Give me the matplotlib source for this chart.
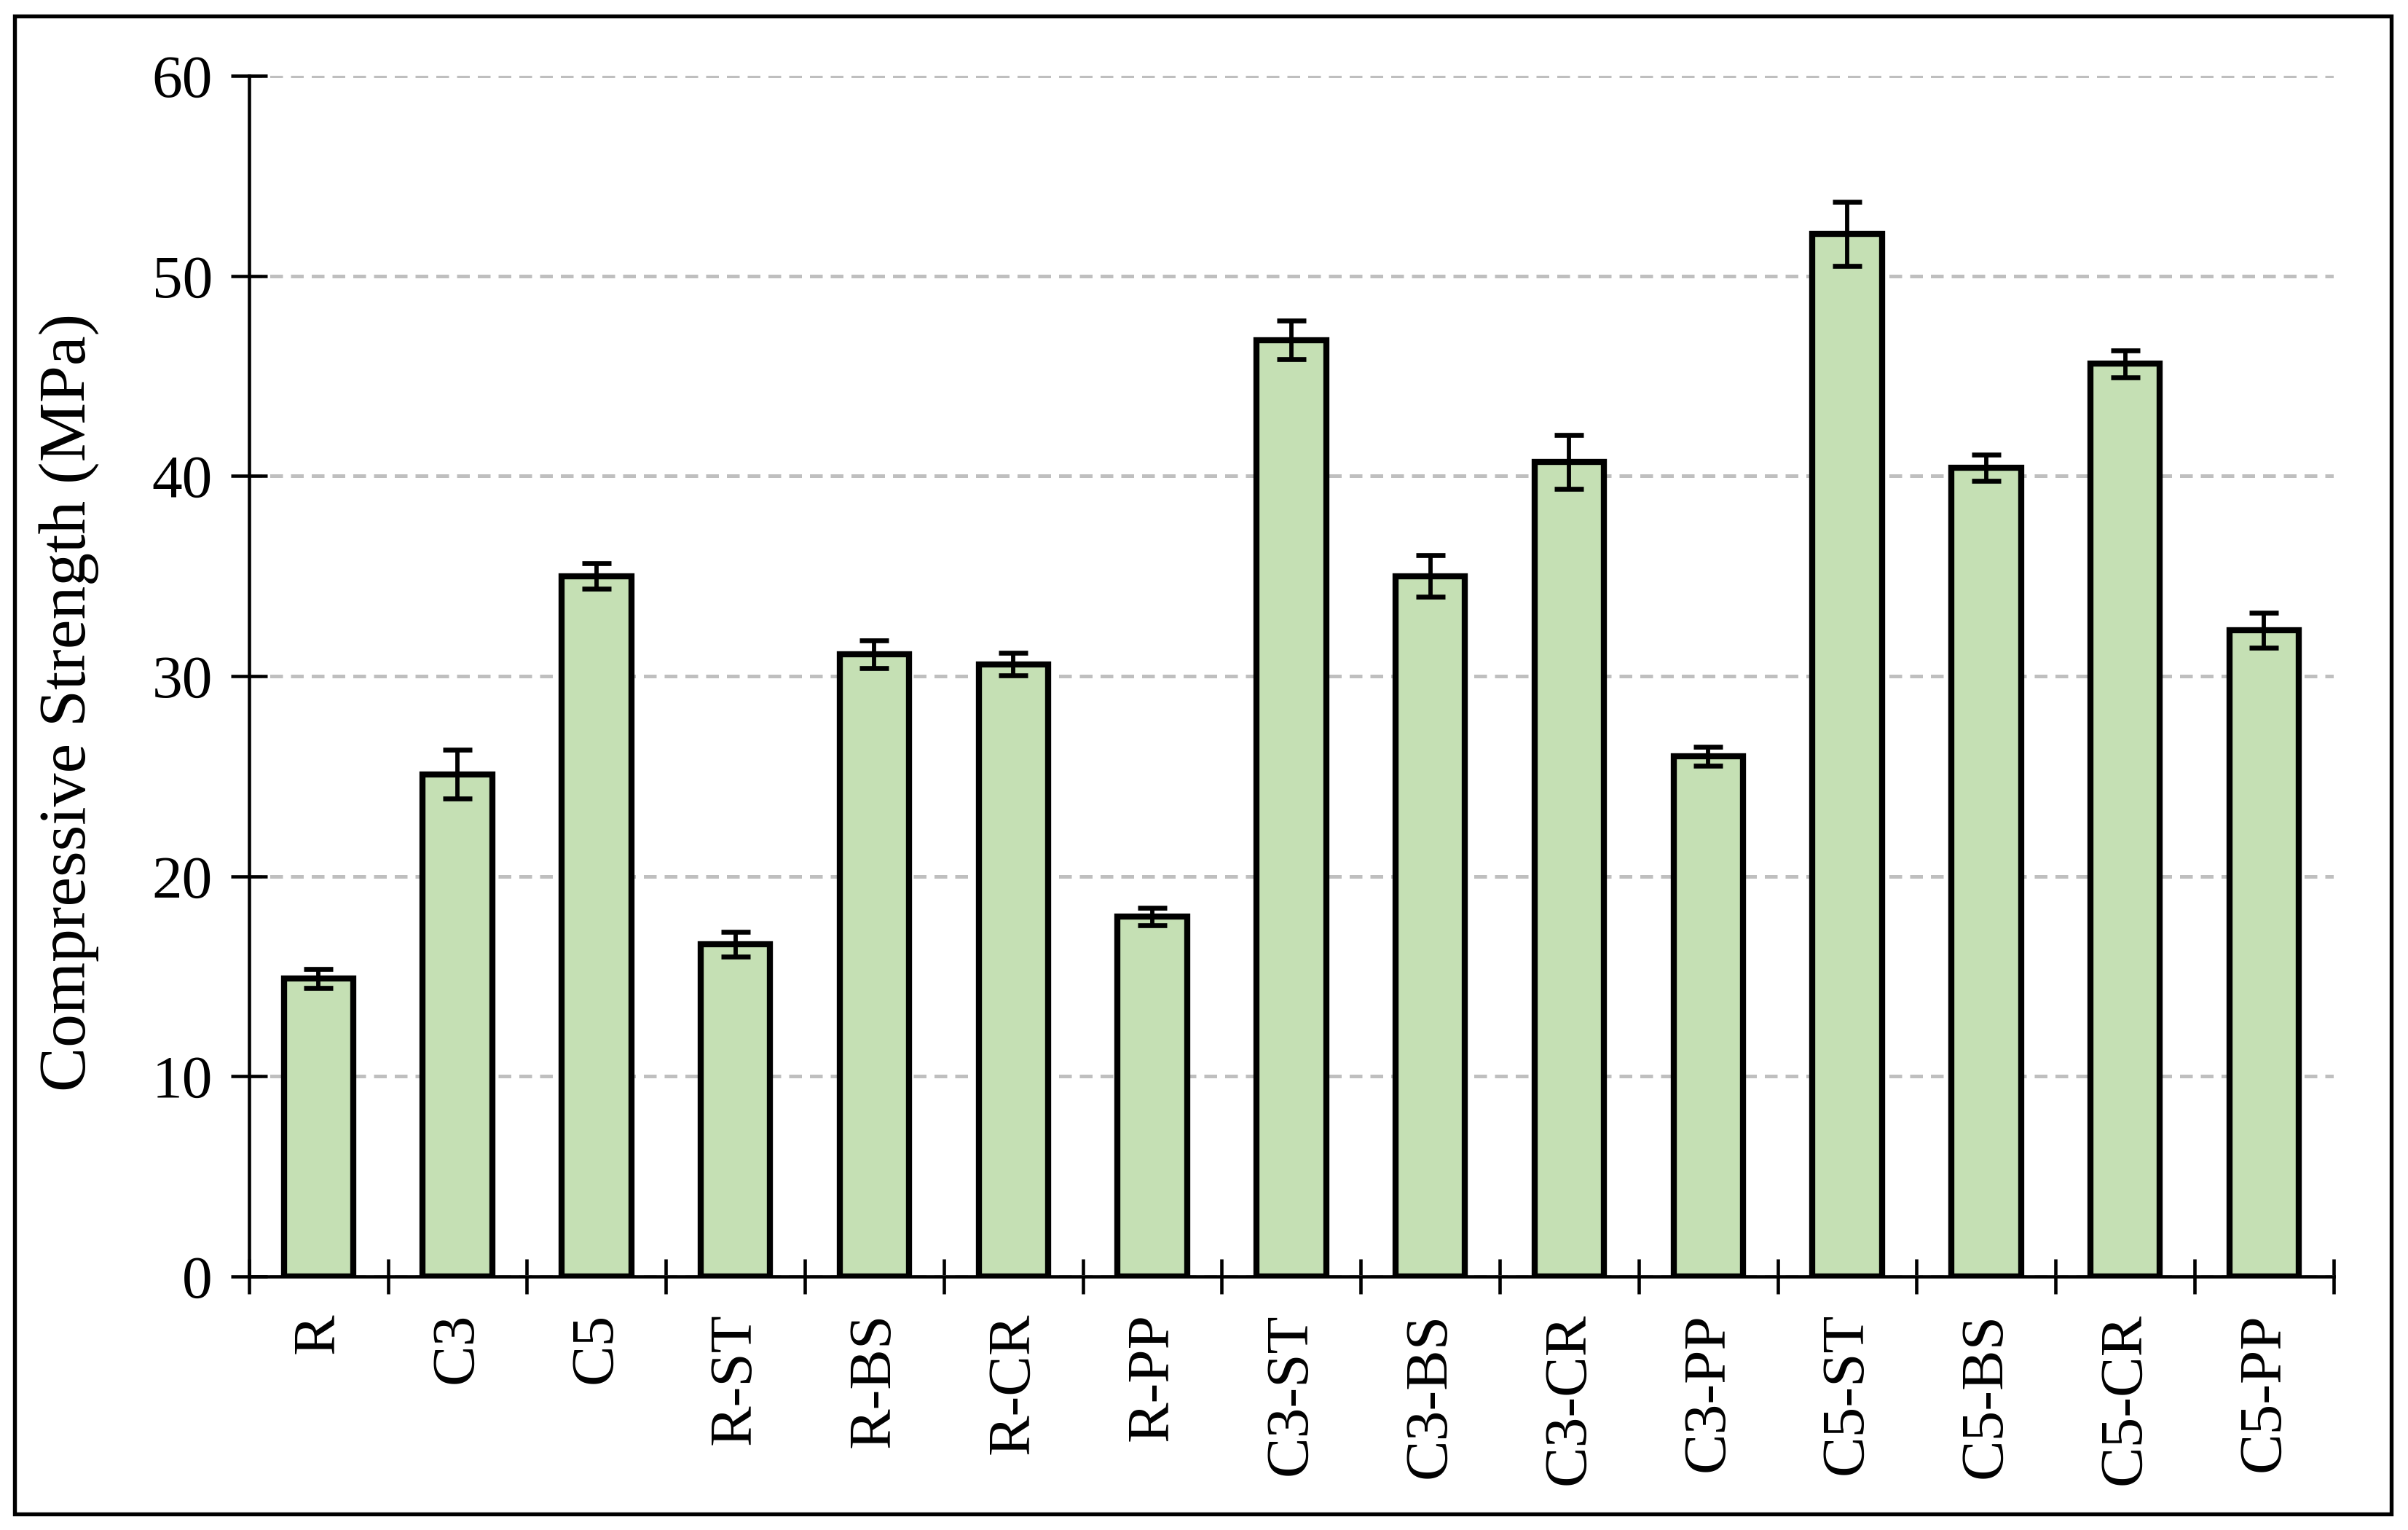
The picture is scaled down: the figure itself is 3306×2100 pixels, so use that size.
import matplotlib.pyplot as plt
from matplotlib.patches import Rectangle

# mix designations and measured compressive strength (MPa)
mixes = ['R', 'C3', 'C5', 'R-ST', 'R-BS', 'R-CR', 'R-PP',
         'C3-ST', 'C3-BS', 'C3-CR', 'C3-PP',
         'C5-ST', 'C5-BS', 'C5-CR', 'C5-PP']
strength = [14.9, 25.1, 35.0, 16.6, 31.1, 30.6, 18.0,
            46.8, 35.0, 40.7, 26.0,
            52.1, 40.4, 45.6, 32.3]
std_dev = [0.48, 1.22, 0.63, 0.63, 0.70, 0.57, 0.44,
           0.97, 1.03, 1.34, 0.47,
           1.60, 0.65, 0.69, 0.87]
y_ticks = [0, 10, 20, 30, 40, 50, 60]

plt.rcParams['font.family'] = ['Liberation Serif', 'DejaVu Serif']

fig = plt.figure(figsize=(11.02, 7.0), dpi=300)
ax = fig.add_axes([0.1034, 0.1657, 0.8657, 0.7848])

x = list(range(len(mixes)))
ax.bar(x, strength, width=0.5, color='#C5E0B4', edgecolor='black',
       linewidth=2.0, zorder=2)
ax.errorbar(x, strength, yerr=std_dev, fmt='none', ecolor='black',
            elinewidth=1.4, capsize=4.8, capthick=1.6, zorder=3)

ax.set_xlim(-0.5, len(mixes) - 0.5)
ax.set_ylim(0, 60)
ax.set_yticks(y_ticks)
ax.set_xticks(x)
ax.set_xticklabels(mixes, rotation=90, fontsize=20)
ax.tick_params(axis='y', labelsize=20)

# ticks sit between the categories on the x axis
ax.set_xticks([i - 0.5 for i in range(len(mixes) + 1)], minor=True)
ax.tick_params(axis='x', which='major', length=0, pad=12)
ax.tick_params(axis='x', which='minor', direction='inout', length=11.5, width=1.1)
ax.tick_params(axis='y', direction='inout', length=12, width=1.1, pad=6)

ax.grid(axis='y', color='#BFBFBF', linewidth=1.2, linestyle=(0, (3.5, 2.2)), zorder=0)
ax.set_axisbelow(True)

for side in ['top', 'right']:
    ax.spines[side].set_visible(False)
for side in ['left', 'bottom']:
    ax.spines[side].set_linewidth(1.1)

fig.text(0.0287, 0.541, 'Compressive Strength (MPa)', rotation=90,
         ha='center', va='center', fontsize=22)

# thin frame around the whole picture
fig.patches.append(Rectangle((0.006, 0.0105), 0.987, 0.979, transform=fig.transFigure,
                             fill=False, edgecolor='black', linewidth=1.3))

fig.savefig('out.png', dpi=300)
